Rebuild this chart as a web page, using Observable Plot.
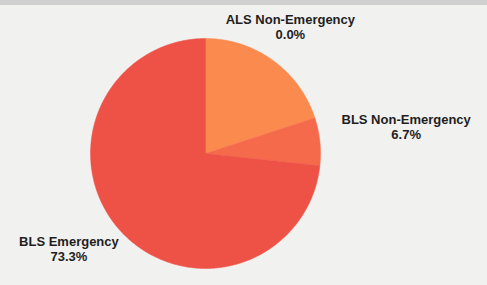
<!DOCTYPE html>
<html>
<head>
<meta charset="utf-8">
<script src="https://cdn.jsdelivr.net/npm/d3@7"></script>
<script src="https://cdn.jsdelivr.net/npm/@observablehq/plot@0.6"></script>
<style>
  html, body { margin: 0; padding: 0; background: #f1f1f0; }
  #chart { width: 487px; height: 285px; position: relative; }
  #strip { position: absolute; left: 0; top: 0; width: 487px; height: 5px; background: #cfcfcf; }
</style>
</head>
<body>
<div id="chart"><div id="strip"></div></div>
<script>
// Data
const categories = ["ALS Emergency", "ALS Non-Emergency", "BLS Non-Emergency", "BLS Emergency"];
const shares = [20.0, 0.0, 6.7, 73.3];
const colors = ["#fb8a4f", "#f97a4e", "#f66a4c", "#ee5247"];
const labelled = ["ALS Non-Emergency", "BLS Non-Emergency", "BLS Emergency"];

// Layout (label placement, in angle degrees clockwise from top and radius multiples)
const labelLayout = {
  "ALS Non-Emergency": {angle: 33.7, dist: 1.33},
  "BLS Non-Emergency": {angle: 82.5, dist: 1.76},
  "BLS Emergency": {angle: 235, dist: 1.45}
};

const W = 487, H = 285, R = 115, CX = 205, CY = 153;

const pie = d3.pie().sort(null).value(d => d.share)(
  categories.map((c, i) => ({category: c, share: shares[i], color: colors[i]}))
);

// Polygon points for each slice in unit coordinates (y up)
const pts = [];
for (const s of pie) {
  if (s.endAngle - s.startAngle <= 0) continue;
  const n = Math.max(2, Math.ceil((s.endAngle - s.startAngle) / 0.01));
  pts.push({cat: s.data.category, x: 0, y: 0, color: s.data.color});
  for (let k = 0; k <= n; k++) {
    const a = s.startAngle + (s.endAngle - s.startAngle) * k / n;
    pts.push({cat: s.data.category, x: Math.sin(a), y: Math.cos(a), color: s.data.color});
  }
  pts.push({cat: s.data.category, x: 0, y: 0, color: s.data.color});
}

const labels = labelled.map(c => {
  const i = categories.indexOf(c);
  const L = labelLayout[c];
  const a = L.angle * Math.PI / 180;
  return {text: `${c}\n${shares[i].toFixed(1)}%`, x: Math.sin(a) * L.dist, y: Math.cos(a) * L.dist};
});

const plot = Plot.plot({
  width: W,
  height: H,
  margin: 0,
  style: {background: "transparent", overflow: "visible"},
  x: {domain: [-CX / R, (W - CX) / R], range: [0, W], axis: null},
  y: {domain: [-(H - CY) / R, CY / R], range: [H, 0], axis: null},
  marks: [
    Plot.line(pts, {x: "x", y: "y", z: "cat", fill: "color", stroke: "color", strokeWidth: 0.5, curve: "linear"}),
    Plot.text(labels, {
      x: "x", y: "y", text: "text",
      fontFamily: "Liberation Sans, Arial, sans-serif",
      fontWeight: "bold", fontSize: 13, fill: "#1e1e1e",
      lineHeight: 1.15, textAnchor: "middle"
    })
  ]
});
document.getElementById("chart").appendChild(plot);
</script>
</body>
</html>
